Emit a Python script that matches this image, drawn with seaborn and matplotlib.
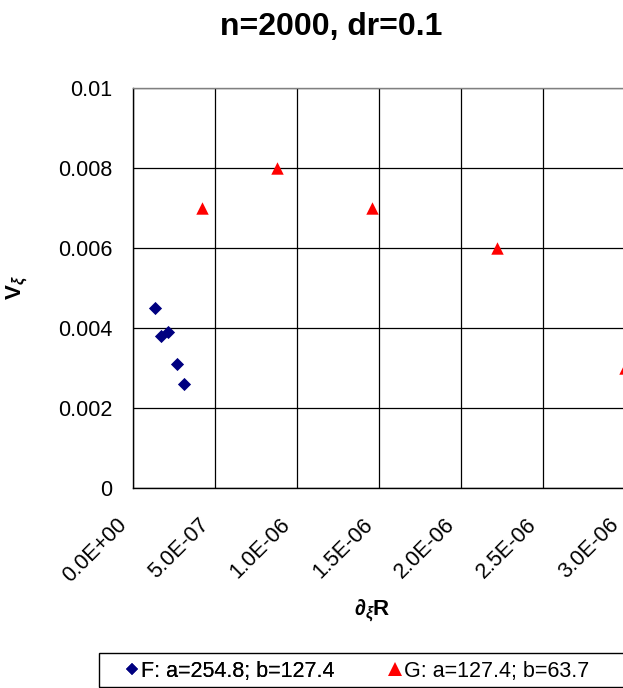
import matplotlib
matplotlib.use("Agg")
import matplotlib.pyplot as plt
import numpy as np
import pandas as pd
import seaborn as sns
from matplotlib.lines import Line2D
from matplotlib.patches import Rectangle
from matplotlib.transforms import ScaledTranslation

# ---------------- data ----------------
f_x = [1.34e-07, 1.69e-07, 2.15e-07, 2.66e-07, 3.11e-07]
f_y = [0.0045, 0.0038, 0.0039, 0.0031, 0.0026]
g_x = [4.2e-07, 8.8e-07, 1.46e-06, 2.22e-06, 3.0e-06]
g_y = [0.007, 0.008, 0.007, 0.006, 0.003]
series_names = ["F: a=254.8; b=127.4", "G: a=127.4; b=63.7"]
x_ticks = [0, 5e-07, 1e-06, 1.5e-06, 2e-06, 2.5e-06, 3e-06]
x_tick_labels = ["0.0E+00", "5.0E-07", "1.0E-06", "1.5E-06", "2.0E-06", "2.5E-06", "3.0E-06"]
y_ticks = [0, 0.002, 0.004, 0.006, 0.008, 0.01]
y_tick_labels = ["0", "0.002", "0.004", "0.006", "0.008", "0.01"]
title_text = "n=2000, dr=0.1"
x_label = r"$\partial_{\xi}$R"
y_label = r"V$_{\xi}$"

df_f = pd.DataFrame({"x": f_x, "y": f_y, "series": series_names[0]})
df_g = pd.DataFrame({"x": g_x, "y": g_y, "series": series_names[1]})

# ---------------- style ----------------
sns.set_theme(style="white")
plt.rcParams["font.family"] = ["Liberation Sans", "DejaVu Sans"]
plt.rcParams["text.color"] = "black"
plt.rcParams["axes.labelcolor"] = "black"
plt.rcParams["xtick.color"] = "black"
plt.rcParams["ytick.color"] = "black"
plt.rcParams["legend.labelcolor"] = "black"
plt.rcParams["mathtext.fontset"] = "custom"
plt.rcParams["mathtext.rm"] = "Liberation Sans:bold"
plt.rcParams["mathtext.it"] = "Liberation Sans:bold:italic"
plt.rcParams["mathtext.bf"] = "Liberation Sans:bold"

W, H = 623, 688
fig = plt.figure(figsize=(W / 100, H / 100), dpi=100)
fig.patch.set_facecolor("white")
ax = fig.add_axes([133 / W, 1 - 488 / H, 492 / W, 400 / H])

blue = "#000080"
red = "#FF0000"

sns.scatterplot(data=df_f, x="x", y="y", marker="D", color=blue, s=45,
                linewidth=0, ax=ax, legend=False, zorder=3)
sns.scatterplot(data=df_g, x="x", y="y", marker="^", color=red, s=80,
                linewidth=0, ax=ax, legend=False, zorder=3)

ax.set_xlim(0, 3.0e-06)
ax.set_ylim(0, 0.01)
ax.set_xlabel("")
ax.set_ylabel("")

tick_fs = 15.5
ax.set_xticks(x_ticks)
ax.set_xticklabels(x_tick_labels, rotation=45, ha="right", va="top",
                   rotation_mode="anchor", fontsize=tick_fs, color="black")
ax.set_yticks(y_ticks)
ax.set_yticklabels(y_tick_labels, fontsize=tick_fs, color="black")
ax.tick_params(axis="x", length=0, pad=19, colors="black")
ax.tick_params(axis="y", length=0, pad=15, colors="black")
shift = ScaledTranslation(-0.17, 0, fig.dpi_scale_trans)
for lab in ax.get_xticklabels():
    lab.set_transform(lab.get_transform() + shift)

ax.grid(True, color="black", linewidth=0.9)
ax.set_axisbelow(True)
for side in ["left", "bottom"]:
    ax.spines[side].set_color("black")
    ax.spines[side].set_linewidth(1.0)
ax.spines["top"].set_color("#808080")
ax.spines["top"].set_linewidth(1.0)
ax.spines["right"].set_color("#808080")
ax.set_facecolor("white")

# ---------------- texts ----------------
fig.text(331 / W, 1 - 35 / H, title_text, ha="center", va="baseline",
         fontsize=23, fontweight="bold", color="black")
fig.text(17 / W, 1 - 288 / H, y_label, rotation=90, ha="center", va="center",
         fontsize=16, fontweight="bold", color="black")
fig.text(372 / W, 1 - 611 / H, x_label, ha="center", va="center",
         fontsize=16, fontweight="bold", color="black")

# ---------------- legend ----------------
fig.patches.append(Rectangle((99 / W, 1 - 687 / H), 600 / W, 34 / H,
                             transform=fig.transFigure, fill=False,
                             edgecolor="black", linewidth=1.0))
h_f = Line2D([], [], linestyle="none", marker="D", color=blue, markersize=5.8,
             markeredgewidth=0)
h_g = Line2D([], [], linestyle="none", marker="^", color=red, markersize=10,
             markeredgewidth=0)
leg_fs = 15.5
leg_y = 1 - 671 / H
leg1 = fig.legend([h_f], [series_names[0]], loc="center left",
                  bbox_to_anchor=(128 / W, leg_y), frameon=False, fontsize=leg_fs,
                  handlelength=0.4, handletextpad=0.2, borderpad=0,
                  borderaxespad=0, labelcolor="black")
leg2 = fig.legend([h_g], [series_names[1]], loc="center left",
                  bbox_to_anchor=(391 / W, leg_y), frameon=False, fontsize=leg_fs,
                  handlelength=0.4, handletextpad=0.2, borderpad=0,
                  borderaxespad=0, labelcolor="black")
fig.add_artist(leg1)

fig.savefig("out.png", dpi=100)
